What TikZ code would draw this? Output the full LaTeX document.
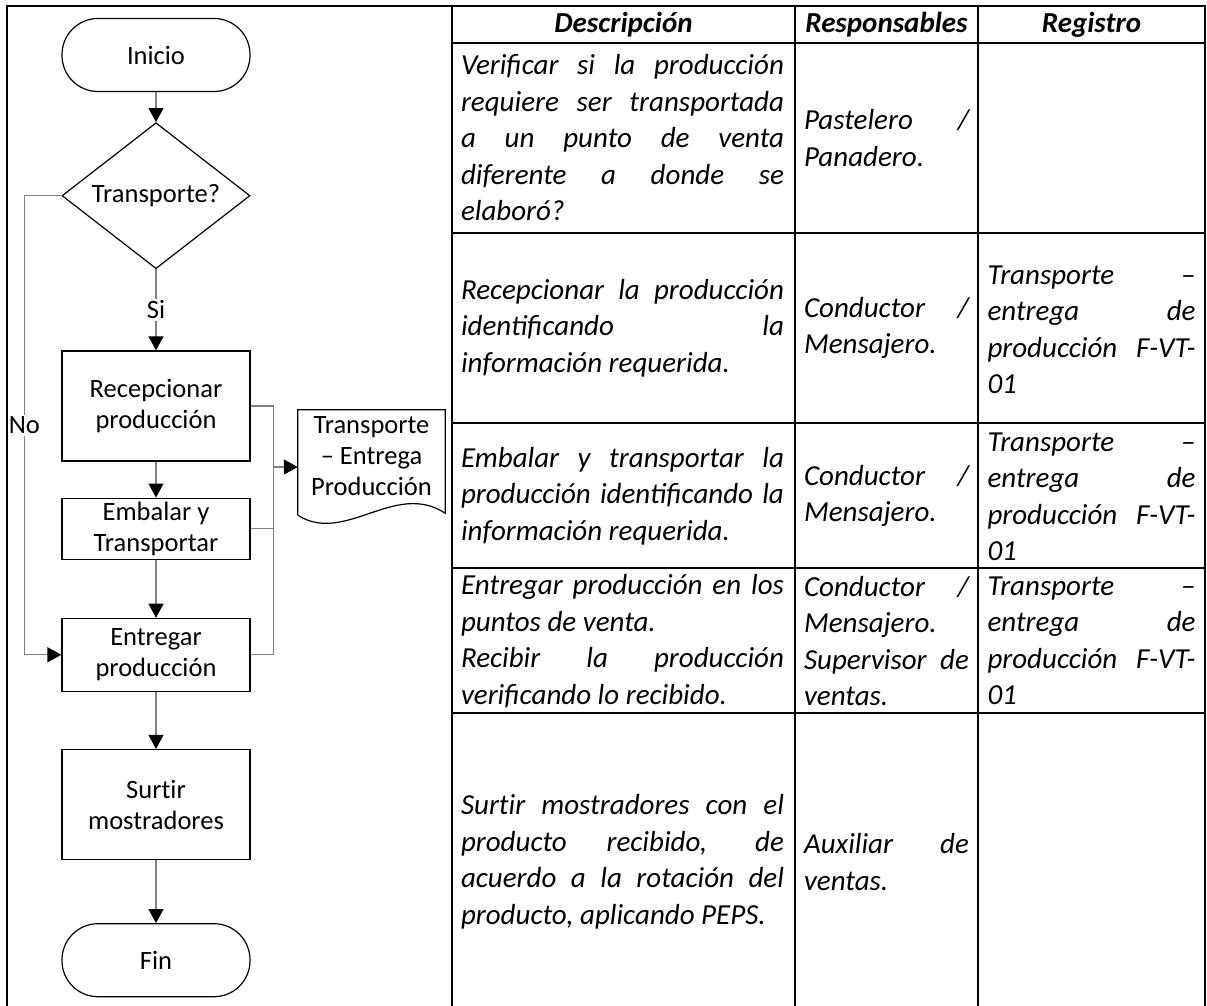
\documentclass[tikz,border=0pt]{standalone}
\usepackage{fontspec}
\setmainfont{Carlito}
\usetikzlibrary{shapes.geometric, arrows.meta, positioning, calc}
\setlength{\parindent}{0pt}
\hyphenpenalty=10000
\exhyphenpenalty=10000
\tolerance=10000
\hbadness=10000
\definecolor{linegray}{RGB}{128,128,128}
\newcommand{\chartfont}{\fontsize{26.5}{31}\selectfont}
\newcommand{\cellfont}{\fontsize{29}{36.5}\selectfont\itshape}
\tikzset{
    terminal/.style={
        rectangle, draw=black, line width=1.2pt, rounded corners=36pt,
        minimum width=188pt, minimum height=73pt, inner sep=0pt,
        font=\chartfont
    },
    decision/.style={
        diamond, draw=black, line width=1.2pt, aspect=1.29,
        minimum width=188pt, minimum height=146pt, inner sep=0pt,
        font=\chartfont
    },
    process/.style={
        rectangle, draw=black, line width=1.2pt, align=center,
        minimum width=188pt, inner sep=0pt, font=\chartfont
    },
    document/.style={
        align=center, minimum width=147pt, minimum height=92pt,
        inner sep=0pt, font=\chartfont
    },
    outline/.style={draw=black, line width=1.2pt},
    wire/.style={draw=linegray, line width=1.3pt, -{Triangle[length=14pt, width=15pt, color=black]}},
    joint/.style={draw=linegray, line width=1.3pt},
    answer/.style={fill=white, inner sep=2pt, font=\chartfont},
    rule/.style={draw=black, line width=2.5pt, line cap=rect},
    cell/.style={text width=323pt, align=justify, inner sep=0pt, font=\cellfont},
    head/.style={inner sep=0pt, font=\cellfont\bfseries}
}

\begin{document}
\begin{tikzpicture}[x=1pt, y=-1pt]
\useasboundingbox (0,0) rectangle (1207,1005);

% Flowchart (left column)
\node[terminal] (inicio) at (156,55) {Inicio};
\node[decision, below=30pt of inicio] (transp) {Transporte?};
\node[process, below=81pt of transp, minimum height=110pt] (rec) {Recepcionar\\producción};
\node[process, below=36pt of rec, minimum height=61pt] (emb) {Embalar y\\Transportar};
\node[process, below=58pt of emb, minimum height=73pt] (ent) {Entregar\\producción};
\node[process, below=57pt of ent, minimum height=110pt] (surt) {Surt\kern0pt ir\\mostradores};
\node[terminal, below=63pt of surt] (fin) {Fin};

% Record document
\node[document] (doc) at (371.5,456) {Transporte\\– Entrega\\Producción};
\draw[outline] ($(doc.south west)+(0,13)$) -- (doc.north west) -- (doc.north east) -- ($(doc.south east)+(0,11)$)
    .. controls ($(doc.south east)+(-50,-22)$) and ($(doc.south west)+(47,43)$) .. ($(doc.south west)+(0,13)$);

% Flow connections
\draw[wire] (inicio) -- (transp);
\draw[wire] (transp) -- node[answer] {Si} (rec);
\draw[wire] (rec) -- (emb);
\draw[wire] (emb) -- (ent);
\draw[wire] (ent) -- (surt);
\draw[wire] (surt) -- (fin);
\draw[wire] (transp.west) -- ++(-37,0) |- node[answer, pos=0.25] {No} (ent.west);

% Steps that feed the record
\coordinate (bus) at ($(rec.east)+(23,0)$);
\coordinate (docin) at ([yshift=-11pt]doc.west);
\draw[joint] (rec.east) -- (bus) |- (ent.east);
\draw[joint] (emb.east) -- (emb.east -| bus);
\draw[wire] (docin -| bus) -- (docin);

% Table frame
\draw[rule] (7,1005) -- (7,6) -- (1205,6) -- (1205,1005);
\foreach \x in {452,795,978} \draw[rule] (\x,6) -- (\x,1005);
\foreach \y in {43,233,423,568,713} \draw[rule] (452,\y) -- (1205,\y);

% Header
\node[head] (hdesc) at (623.5,25) {Descripción};
\node[head] (hresp) at (886.5,25) {Responsables};
\node[head] (hreg) at (1091.5,25) {Registro};

% Row 1
\node[cell] (desc1) at (622.5,138) {Verificar si la producción\linebreak requiere ser transportada\linebreak a un punto de venta\linebreak diferente a donde se\linebreak elaboró?};
\node[cell, text width=165pt] (resp1) at (886.5,138) {Pastelero /\linebreak Panadero.};

% Row 2
\node[cell] (desc2) at (622.5,328) {Recepcionar la producción\linebreak identificando la\linebreak información requerida.};
\node[cell, text width=165pt] (resp2) at (886.5,328) {Conductor /\linebreak Mensajero.};
\node[cell, text width=208pt] (reg2) at (1091.5,330) {Transporte –\linebreak entrega de\linebreak producción F-VT-\linebreak 01};

% Row 3
\node[cell] (desc3) at (622.5,496) {Embalar y transportar la\linebreak producción identificando la\linebreak información requerida.};
\node[cell, text width=165pt] (resp3) at (886.5,496) {Conductor /\linebreak Mensajero.};
\node[cell, text width=208pt] (reg3) at (1091.5,497) {Transporte –\linebreak entrega de\linebreak producción F-VT-\linebreak 01};

% Row 4
\node[cell] (desc4) at (622.5,641) {Entregar producción en los\linebreak puntos de venta.\par Recibir la producción\linebreak verificando lo recibido.};
\node[cell, text width=165pt] (resp4) at (886.5,641) {Conductor /\linebreak Mensajero.\par Supervisor de\linebreak ventas.};
\node[cell, text width=208pt] (reg4) at (1091.5,641) {Transporte –\linebreak entrega de\linebreak producción F-VT-\linebreak 01};

% Row 5
\node[cell] (desc5) at (622.5,862) {Surt\kern0pt ir mostradores con el\linebreak producto recibido, de\linebreak acuerdo a la rotación del\linebreak producto, aplicando PEPS.};
\node[cell, text width=165pt] (resp5) at (886.5,862) {Auxiliar de\linebreak ventas.};

\end{tikzpicture}
\end{document}
